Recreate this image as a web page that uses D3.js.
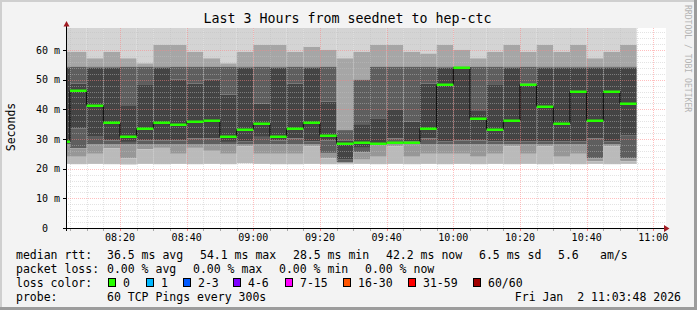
<!DOCTYPE html>
<meta charset="utf-8">
<script src="https://d3js.org/d3.v7.min.js"></script>
<style>
  body { margin: 0; background: #f3f3f3; }
  text { font-family: "DejaVu Sans Mono", monospace; fill: #000; }
</style>
<svg id="chart" width="697" height="310"></svg>
<script>

// end time of each 5 minute sample
const times = ["08:05","08:10","08:15","08:20","08:25","08:30","08:35","08:40","08:45","08:50",
  "08:55","09:00","09:05","09:10","09:15","09:20","09:25","09:30","09:35","09:40",
  "09:45","09:50","09:55","10:00","10:05","10:10","10:15","10:20","10:25","10:30",
  "10:35","10:40","10:45","10:50","10:55"];

// median rtt (ms)
const median = [29.3,46.5,41.4,35.7,31.1,33.8,35.7,35.2,36.1,36.5,
  31.1,33.4,35.5,31.1,33.8,35.7,31.4,28.5,29.0,28.8,
  29.0,29.0,33.8,48.6,54.1,37.0,33.4,36.5,48.6,41.2,
  35.5,46.3,36.5,46.3,42.2];

// smoke: spread of the 60 pings (ms), outer to inner
const pmax = [68,68,68,68,68,68,68,68,68,68,68,68,68,68,68,68,68,68,68,68,
  68,68,68,68,68,68,68,68,68,68,68,68,68,68,68];
const q90 = [59.4,59.4,57.2,59.4,57.2,55.5,61.7,61.7,59.4,57.2,
  55.5,59.4,61.7,61.7,59.4,61.0,60.0,57.2,59.4,61.7,
  61.7,59.4,58.8,61.7,60.0,57.2,59.4,61.7,59.4,61.7,
  59.4,61.7,57.2,59.4,61.7];
const q75 = [54.4,54.4,54.4,54.4,54.4,54.4,54.4,54.4,54.4,54.4,
  54.4,54.4,54.4,54.4,54.4,54.4,54.4,33.0,50.0,54.4,
  54.4,54.4,54.4,54.4,54.4,54.4,54.4,54.4,54.4,54.4,
  54.4,54.4,54.4,54.4,54.4];
const q60 = [54.0,48.7,54.0,54.0,41.4,48.2,54.0,50.0,48.7,50.0,
  45.0,54.0,42.0,54.0,48.7,54.0,42.6,29.5,35.0,37.0,
  40.0,35.8,48.7,54.0,54.0,39.7,48.2,54.0,48.7,54.0,
  54.0,54.0,54.0,54.0,54.0];
const q40 = [29.0,33.5,31.0,29.5,29.0,29.5,29.5,29.5,30.2,30.2,
  29.0,29.1,30.7,29.5,30.2,29.1,29.5,23.0,27.0,28.0,
  30.2,29.1,30.2,29.1,29.5,29.5,29.1,29.1,29.1,29.1,
  29.1,29.1,30.2,29.1,31.3];
const q25 = [28.3,26.9,28.3,28.3,28.3,28.3,28.3,28.3,28.3,28.3,
  28.3,28.3,28.3,28.3,28.3,28.3,25.3,22.2,25.5,28.3,
  28.3,28.3,28.3,28.3,28.3,28.3,28.3,28.3,28.3,28.3,
  28.3,28.3,23.5,28.3,23.5];
const q10 = [24.0,24.0,25.0,26.9,23.5,26.5,27.0,25.0,27.0,26.0,
  25.0,27.5,25.0,25.0,25.0,27.5,23.5,21.8,23.0,24.0,
  27.5,24.0,25.0,25.0,25.0,24.0,25.0,27.5,25.0,27.5,
  24.0,25.0,22.5,27.5,22.5];
const pmin = [21.6,21.5,21.6,21.5,21.4,21.6,21.5,21.6,21.5,21.6,
  21.5,21.8,21.6,21.5,21.5,21.6,21.5,21.5,21.6,21.5,
  21.6,21.5,21.6,21.5,21.6,21.5,21.6,21.5,21.6,21.5,
  21.6,21.5,21.6,21.5,21.6];

const yTicks = [0,10,20,30,40,50,60];
const xTickLabels = ["08:20","08:40","09:00","09:20","09:40","10:00","10:20","10:40","11:00"];

const lossLabels = ["0","1","2-3","4-6","7-15","16-30","31-59","60/60"];
const lossColors = ["#26ff00","#00b8ff","#0059ff","#7e00ff","#ff00ff","#ff5500","#ff0000","#a10000"];
const lossX = [108,146,183,233,285,343,408,473];

const statsRtt = ["36.5 ms avg","54.1 ms max","28.5 ms min","42.2 ms now","6.5 ms sd","5.6","am/s"];
const statsRttX = [107,200,293,386,479,558,600];
const statsLoss = ["0.00 % avg","0.00 % max","0.00 % min","0.00 % now"];
const statsLossX = [107,193,279,365];

const svg = d3.select("#chart");
const W = 697, H = 310;
const pLeft = 66, pRight = 666, pTop = 28, pBottom = 228;

const day = t => { const [h, m] = t.split(":").map(Number); return new Date(2026, 0, 2, h, m, 0); };
const t0 = new Date(2026, 0, 2, 8, 3, 48), t1 = new Date(2026, 0, 2, 11, 3, 48);

const x = d3.scaleTime().domain([t0, t1]).range([pLeft, pRight]);
const y = d3.scaleLinear().domain([0, 67.4]).range([pBottom, pTop]);

// frame
svg.append("rect").attr("width", W).attr("height", H).attr("fill", "#f3f3f3");
svg.append("rect").attr("width", W).attr("height", 2).attr("fill", "#cfcfcf");
svg.append("rect").attr("width", 2).attr("height", H).attr("fill", "#cfcfcf");
svg.append("rect").attr("y", H - 3).attr("width", W).attr("height", 3).attr("fill", "#9c9c9c");
svg.append("rect").attr("x", W - 3).attr("width", 3).attr("height", H).attr("fill", "#9c9c9c");

svg.append("rect").attr("x", pLeft).attr("y", pTop).attr("width", pRight - pLeft).attr("height", pBottom - pTop).attr("fill", "#fff");

svg.append("clipPath").attr("id", "plot").append("rect")
  .attr("x", pLeft).attr("y", pTop).attr("width", pRight - pLeft).attr("height", pBottom - pTop);

// smoke
const bars = times.map((t, i) => {
  const end = day(t);
  const start = d3.max([d3.timeMinute.offset(end, -5), t0]);
  return { x0: x(start), x1: x(end), i };
});
const bandColors = ["#d4d4d4","#a6a6a6","#5e5e5e","#444444","#5e5e5e","#979797","#bababa"];
const smoke = svg.append("g").attr("clip-path", "url(#plot)");
bars.forEach(b => {
  const i = b.i;
  const edges = [pmax[i], q90[i], q75[i], q60[i], q40[i], q25[i], q10[i], pmin[i]];
  for (let k = 0; k < 7; k++) {
    const hi = edges[k], lo = edges[k + 1];
    if (hi <= lo) continue;
    smoke.append("rect")
      .attr("x", b.x0).attr("width", b.x1 - b.x0)
      .attr("y", y(hi)).attr("height", y(lo) - y(hi))
      .attr("fill", bandColors[k]);
  }
});

// grid (drawn over the smoke, like rrdtool)
const grid = svg.append("g");
const minorY = d3.range(2, 67, 2).filter(v => v % 10 !== 0);
grid.selectAll(".hmin").data(minorY).join("line")
  .attr("x1", pLeft).attr("x2", pRight).attr("y1", d => Math.round(y(d)) + 0.5).attr("y2", d => Math.round(y(d)) + 0.5)
  .attr("stroke", "#c0c0c0").attr("stroke-opacity", 0.45).attr("stroke-dasharray", "1,1");
const minorX = d3.timeMinute.every(5).range(t0, t1).filter(d => d.getMinutes() % 20 !== 0);
grid.selectAll(".vmin").data(minorX).join("line")
  .attr("x1", d => Math.round(x(d)) + 0.5).attr("x2", d => Math.round(x(d)) + 0.5)
  .attr("y1", pTop).attr("y2", pBottom)
  .attr("stroke", "#c0c0c0").attr("stroke-opacity", 0.45).attr("stroke-dasharray", "1,1");
grid.selectAll(".hmaj").data(yTicks.slice(1)).join("line")
  .attr("x1", pLeft).attr("x2", pRight).attr("y1", d => Math.round(y(d)) + 0.5).attr("y2", d => Math.round(y(d)) + 0.5)
  .attr("stroke", "#ff8080").attr("stroke-opacity", 0.5).attr("stroke-dasharray", "1,1");
grid.selectAll(".vmaj").data(xTickLabels).join("line")
  .attr("x1", d => Math.round(x(day(d))) + 0.5).attr("x2", d => Math.round(x(day(d))) + 0.5)
  .attr("y1", pTop).attr("y2", pBottom)
  .attr("stroke", "#ff8080").attr("stroke-opacity", 0.5).attr("stroke-dasharray", "1,1");

// median: black step line + loss coloured dashes
const pts = [];
bars.forEach(b => { pts.push([b.x0, median[b.i]]); pts.push([b.x1, median[b.i]]); });
svg.append("path")
  .attr("d", d3.line().x(d => d[0]).y(d => Math.round(y(d[1])) + 0.5)(pts))
  .attr("fill", "none").attr("stroke", "#000").attr("stroke-width", 1);
svg.append("g").selectAll("rect").data(bars).join("rect")
  .attr("x", d => d.x0).attr("width", d => d.x1 - d.x0)
  .attr("y", d => Math.round(y(median[d.i])) - 0.5).attr("height", 2.5)
  .attr("fill", lossColors[0]);

// axes
svg.append("line").attr("x1", 63).attr("x2", 665).attr("y1", pBottom + 0.5).attr("y2", pBottom + 0.5).attr("stroke", "#000");
svg.append("line").attr("x1", pLeft + 0.5).attr("x2", pLeft + 0.5).attr("y1", pBottom + 3).attr("y2", 25).attr("stroke", "#000");
svg.append("path").attr("d", "M63.5,26.5L66.5,21L69.5,26.5Z").attr("fill", "#a11b22");
svg.append("path").attr("d", "M664,225L669.5,228.5L664,232Z").attr("fill", "#a11b22");

// ticks
svg.selectAll(".yt").data(yTicks).join("line")
  .attr("x1", 63).attr("x2", pLeft).attr("y1", d => Math.round(y(d)) + 0.5).attr("y2", d => Math.round(y(d)) + 0.5)
  .attr("stroke", "#000");
svg.selectAll(".xtm").data(minorX).join("line")
  .attr("x1", d => Math.round(x(d)) + 0.5).attr("x2", d => Math.round(x(d)) + 0.5)
  .attr("y1", pBottom + 1).attr("y2", pBottom + 3).attr("stroke", "#aaa");
svg.selectAll(".xtM").data(xTickLabels).join("line")
  .attr("x1", d => Math.round(x(day(d))) + 0.5).attr("x2", d => Math.round(x(day(d))) + 0.5)
  .attr("y1", pBottom + 1).attr("y2", pBottom + 3).attr("stroke", "#ff8080");

// labels
svg.selectAll(".yl").data(yTicks).join("text")
  .attr("x", d => d === 0 ? 48 : 60).attr("y", d => y(d) + 3.6)
  .attr("text-anchor", "end").attr("font-size", 10)
  .text(d => d === 0 ? "0" : d + " m");
svg.selectAll(".xl").data(xTickLabels).join("text")
  .attr("x", d => x(day(d))).attr("y", 240.5)
  .attr("text-anchor", "middle").attr("font-size", 10)
  .text(d => d);

svg.append("text").attr("x", 347.5).attr("y", 22.5).attr("text-anchor", "middle").attr("font-size", 13.3)
  .text("Last 3 Hours from seednet to hep-ctc");
svg.append("text").attr("transform", "translate(15,127) rotate(-90)").attr("text-anchor", "middle")
  .attr("font-size", 11.5).text("Seconds");
svg.append("text").attr("transform", "translate(685,5) rotate(90)").attr("font-size", 8.1)
  .style("fill", "#b4b4b4").text("RRDTOOL / TOBI OETIKER");

// legend
const fs = 11.5;
const rows = [258.5, 272.5, 286.5, 300.5];
svg.append("text").attr("x", 16).attr("y", rows[0]).attr("font-size", fs).text("median rtt:");
statsRtt.forEach((s, i) => svg.append("text").attr("x", statsRttX[i]).attr("y", rows[0]).attr("font-size", fs).text(s));
svg.append("text").attr("x", 16).attr("y", rows[1]).attr("font-size", fs).text("packet loss:");
statsLoss.forEach((s, i) => svg.append("text").attr("x", statsLossX[i]).attr("y", rows[1]).attr("font-size", fs).text(s));
svg.append("text").attr("x", 16).attr("y", rows[2]).attr("font-size", fs).text("loss color:");
lossLabels.forEach((s, i) => {
  svg.append("rect").attr("x", lossX[i] + 0.5).attr("y", 278.5).attr("width", 7).attr("height", 8)
    .attr("fill", lossColors[i]).attr("stroke", "#000");
  svg.append("text").attr("x", lossX[i] + 15).attr("y", rows[2]).attr("font-size", fs).text(s);
});
svg.append("text").attr("x", 16).attr("y", rows[3]).attr("font-size", fs).text("probe:");
svg.append("text").attr("x", 107).attr("y", rows[3]).attr("font-size", fs).text("60 TCP Pings every 300s");
svg.append("text").attr("x", 681).attr("y", rows[3]).attr("text-anchor", "end").attr("font-size", fs)
  .style("white-space", "pre").text("Fri Jan  2 11:03:48 2026");

</script>
